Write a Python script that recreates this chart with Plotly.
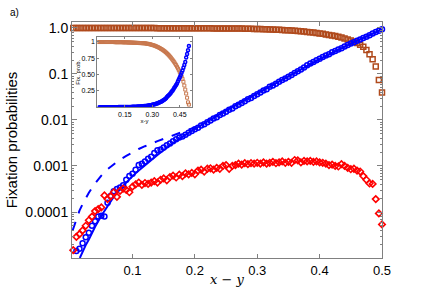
import plotly.graph_objects as go

# x grid of the simulations (x - y)
x_grid = [round(0.005 * k, 3) for k in range(1, 101)]

# log10 of fixation probabilities
orange_log10 = [
    -0.002, -0.002, -0.002, -0.002, -0.002, -0.002, -0.002, -0.002, -0.002, -0.002,
    -0.002, -0.002, -0.002, -0.002, -0.002, -0.002, -0.002, -0.002, -0.003, -0.003,
    -0.003, -0.003, -0.003, -0.003, -0.003, -0.003, -0.003, -0.004, -0.004, -0.004,
    -0.004, -0.004, -0.005, -0.005, -0.005, -0.005, -0.006, -0.006, -0.006, -0.007,
    -0.007, -0.007, -0.008, -0.008, -0.008, -0.009, -0.009, -0.009, -0.010, -0.010,
    -0.010, -0.011, -0.012, -0.013, -0.014, -0.015, -0.017, -0.018, -0.020, -0.022,
    -0.024, -0.026, -0.028, -0.031, -0.034, -0.037, -0.040, -0.044, -0.048, -0.052,
    -0.056, -0.061, -0.066, -0.072, -0.078, -0.085, -0.092, -0.100, -0.109, -0.118,
    -0.128, -0.139, -0.150, -0.163, -0.177, -0.192, -0.209, -0.228, -0.249, -0.272,
    -0.298, -0.328, -0.362, -0.410, -0.480, -0.570, -0.680, -0.840, -1.130, -1.400,
]

blue_x = x_grid[1:]
blue_log10 = [
    -4.85, -4.80, -4.68, -4.55, -4.45, -4.30, -4.20, -4.10, -4.08, -4.10,
    -3.80, -3.65, -3.55, -3.50, -3.47, -3.42, -3.30, -3.22, -3.17, -3.08,
    -2.98, -2.95, -2.90, -2.84, -2.80, -2.72, -2.66, -2.64, -2.60, -2.55,
    -2.51, -2.46, -2.42, -2.38, -2.36, -2.32, -2.28, -2.24, -2.20, -2.17,
    -2.12, -2.09, -2.05, -2.01, -1.97, -1.94, -1.89, -1.86, -1.82, -1.78,
    -1.75, -1.70, -1.67, -1.63, -1.59, -1.55, -1.52, -1.48, -1.44, -1.40,
    -1.36, -1.33, -1.28, -1.25, -1.21, -1.17, -1.13, -1.10, -1.06, -1.02,
    -0.98, -0.94, -0.90, -0.86, -0.81, -0.77, -0.74, -0.70, -0.67, -0.63,
    -0.60, -0.57, -0.53, -0.50, -0.47, -0.44, -0.40, -0.37, -0.34, -0.31,
    -0.28, -0.25, -0.22, -0.19, -0.16, -0.12, -0.09, -0.06, -0.03,
]

red_log10 = [
    -4.83, -4.54, -4.48, -4.40, -4.30, -4.18, -4.10, -3.98, -3.94, -3.90,
    -3.64, -3.72, -3.66, -3.57, -3.67, -3.54, -3.49, -3.52, -3.57, -3.45,
    -3.40, -3.36, -3.41, -3.37, -3.39, -3.36, -3.33, -3.36, -3.30, -3.27,
    -3.31, -3.24, -3.21, -3.25, -3.19, -3.22, -3.16, -3.18, -3.15, -3.18,
    -3.10, -3.08, -3.12, -3.06, -3.05, -3.08, -3.04, -3.06, -3.00, -2.98,
    -3.06, -3.00, -2.98, -2.95, -2.97, -2.94, -2.96, -2.94, -2.95, -2.93,
    -2.95, -2.92, -2.95, -2.93, -2.91, -2.94, -2.92, -2.90, -2.93, -2.91,
    -2.93, -2.87, -2.88, -2.92, -2.89, -2.90, -2.89, -2.91, -2.90, -2.92,
    -2.93, -2.95, -2.98, -2.97, -3.00, -3.01, -2.96, -3.00, -3.04, -3.07,
    -3.06, -3.10, -3.12, -3.22, -3.30, -3.38, -3.39, -3.72, -4.03, -4.27,
]

# theory curves
solid_x = [0.0155, 0.02, 0.025, 0.03, 0.04, 0.05, 0.06, 0.07, 0.08, 0.09, 0.10, 0.11,
           0.12, 0.14, 0.16, 0.18, 0.20, 0.25, 0.30, 0.35, 0.40, 0.45, 0.50]
solid_log10 = [-5.0, -4.85, -4.72, -4.60, -4.32, -4.08, -3.86, -3.67, -3.50, -3.35, -3.22, -3.10,
               -2.98, -2.76, -2.55, -2.37, -2.19, -1.79, -1.42, -1.06, -0.68, -0.34, -0.03]
dashed_x = [0.004, 0.01, 0.015, 0.02, 0.03, 0.04, 0.05, 0.06, 0.07, 0.08, 0.09, 0.10,
            0.11, 0.12, 0.13, 0.14, 0.15, 0.16, 0.17, 0.18, 0.19, 0.20]
dashed_log10 = [-4.40, -4.15, -3.97, -3.83, -3.58, -3.38, -3.21, -3.07, -2.96, -2.86, -2.78, -2.70,
                -2.63, -2.57, -2.51, -2.46, -2.41, -2.36, -2.31, -2.26, -2.21, -2.16]

orange = [10 ** v for v in orange_log10]
blue = [10 ** v for v in blue_log10]
red = [10 ** v for v in red_log10]
solid = [10 ** v for v in solid_log10]
dashed = [10 ** v for v in dashed_log10]

y_tickvals = [1, 0.1, 0.01, 0.001, 0.0001]
y_ticktext = ["1.0", "0.1", "0.01", "0.001", "0.0001"]
x_tickvals = [0.1, 0.2, 0.3, 0.4, 0.5]
x_ticktext = ["0.1", "0.2", "0.3", "0.4", "0.5"]
inset_xticks = [0.15, 0.30, 0.45]
inset_xtext = ["0.15", "0.30", "0.45"]
inset_yticks = [0.25, 0.5, 0.75, 1.0]
inset_ytext = ["0.25", "0.50", "0.75", "1"]

minor_y = [m * 10 ** e for e in range(-5, 1) for m in range(2, 10)]

ORANGE = "#b04a1c"
BLUE = "#0000ff"
RED = "#ff0000"
AX = "#808080"

fig = go.Figure()
fig.add_trace(go.Scatter(x=x_grid, y=orange, mode="markers", cliponaxis=False,
                         marker=dict(symbol="square-open", size=5, color=ORANGE, line=dict(width=1.5))))
fig.add_trace(go.Scatter(x=solid_x, y=solid, mode="lines", line=dict(color=BLUE, width=2)))
fig.add_trace(go.Scatter(x=dashed_x, y=dashed, mode="lines", line=dict(color=BLUE, width=2, dash="dash")))
fig.add_trace(go.Scatter(x=blue_x, y=blue, mode="markers", cliponaxis=False,
                         marker=dict(symbol="circle-open", size=5, color=BLUE, line=dict(width=1.5))))
fig.add_trace(go.Scatter(x=x_grid, y=red, mode="markers", cliponaxis=False,
                         marker=dict(symbol="diamond-open", size=5, color=RED, line=dict(width=1.6))))

# inset (linear)
fig.add_trace(go.Scatter(x=x_grid, y=orange, mode="markers", xaxis="x2", yaxis="y2",
                         marker=dict(symbol="square-open", size=3, color="#c8784e", line=dict(width=1))))
fig.add_trace(go.Scatter(x=blue_x, y=blue, mode="markers", xaxis="x2", yaxis="y2",
                         marker=dict(symbol="circle-open", size=3, color=BLUE, line=dict(width=1.5))))

common = dict(showgrid=False, zeroline=False, showline=True, linecolor=AX, tickcolor=AX,
              ticks="inside", mirror="ticks", automargin=False)

fig.update_layout(
    template="none",
    width=422, height=291,
    margin=dict(l=72, r=40, t=22, b=33),
    paper_bgcolor="white", plot_bgcolor="white",
    showlegend=False,
    font=dict(family="Liberation Sans, Arial, sans-serif", color="black"),
    xaxis=dict(range=[0.003, 0.5], tickvals=x_tickvals, ticktext=x_ticktext,
               ticklen=4, tickfont=dict(size=13), **common),
    yaxis=dict(type="log", range=[-5, 0.13], tickvals=y_tickvals, ticktext=y_ticktext,
               ticklen=5, tickfont=dict(size=14),
               minor=dict(tickvals=minor_y, ticks="inside", ticklen=2, tickcolor=AX, showgrid=False),
               title=dict(text="Fixation probabilities", font=dict(size=15), standoff=4), **common),
    xaxis2=dict(domain=[0.082, 0.386], anchor="y2", range=[0.0, 0.515],
                tickvals=inset_xticks, ticktext=inset_xtext, ticklen=2, tickfont=dict(size=7),
                title=dict(text="x-y", font=dict(size=6), standoff=0), **common),
    yaxis2=dict(domain=[0.639, 0.935], anchor="x2", range=[0.0, 1.067],
                tickvals=inset_yticks, ticktext=inset_ytext, ticklen=2, tickfont=dict(size=7),
                title=dict(text="Fix. prob.", font=dict(size=6), standoff=0), **common),
    annotations=[
        dict(text="a)", x=-0.187, y=1.042, xref="paper", yref="paper",
             showarrow=False, font=dict(size=10), xanchor="center", yanchor="middle"),
        dict(text="<i>x</i> − <i>y</i>", x=0.5, y=-0.089, xref="paper", yref="paper",
             showarrow=False, font=dict(family="DejaVu Serif, serif", size=13),
             xanchor="center", yanchor="middle"),
    ],
)

fig.write_html("out.html", config={"displayModeBar": False},
               post_script="document.body.style.margin='0px';")
